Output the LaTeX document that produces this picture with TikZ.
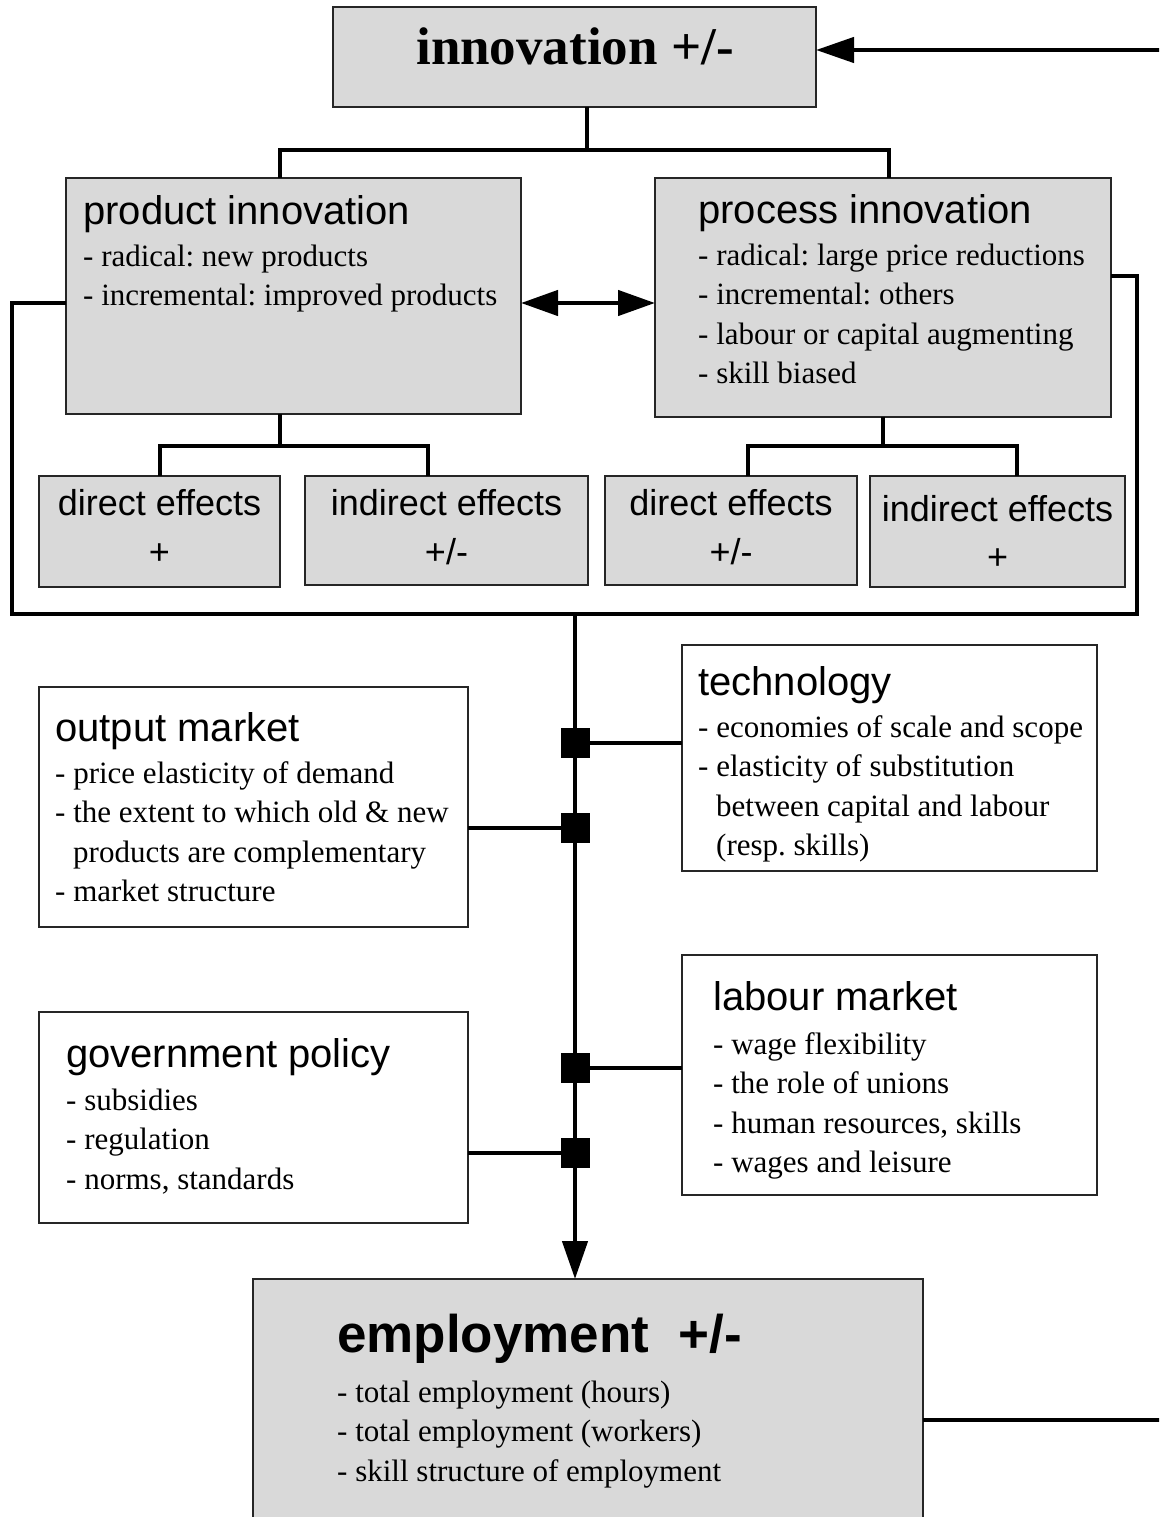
\documentclass[tikz,border=0pt]{standalone}
\usepackage{fontspec}
\setmainfont{Liberation Serif}
\setsansfont{Liberation Sans}
\usetikzlibrary{arrows.meta}
\definecolor{boxgray}{HTML}{D9D9D9}
\frenchspacing
\begin{document}
\begin{tikzpicture}[x=1pt,y=-1pt,
 gbox/.style={draw=black!85, line width=1.6pt, fill=boxgray, inner sep=0pt, outer sep=0pt, anchor=north west},
 wbox/.style={gbox, fill=white},
 conn/.style={line width=4.5pt},
 thin/.style={line width=3.5pt},
 head/.style={font=\sffamily\fontsize{40}{48}\selectfont, anchor=base west, inner sep=0pt},
 items/.style={font=\fontsize{31}{39.5}\selectfont\frenchspacing, align=left, anchor=base west, inner sep=0pt},
 efft/.style={font=\sffamily\fontsize{36}{48}\selectfont, anchor=base, inner sep=0pt},
 sq/.style={fill=black, minimum width=29pt, minimum height=30pt, inner sep=0pt, outer sep=0pt},
 tip/.style={-{Triangle[length=38pt,width=25pt]}},
 dtip/.style={{Triangle[length=37pt,width=25pt]}-{Triangle[length=37pt,width=25pt]}}
]
\useasboundingbox (0,0) rectangle (1159,1517);
\clip (0,0) rectangle (1159,1517);

% boxes
\node[gbox, minimum width=483pt, minimum height=100pt] (inno) at (333,7) {};
\node[gbox, minimum width=455pt, minimum height=236pt] (prod) at (66,178) {};
\node[gbox, minimum width=456pt, minimum height=239pt] (proc) at (655,178) {};
\node[gbox, minimum width=241pt, minimum height=111pt] (de1) at (39,476) {};
\node[gbox, minimum width=283pt, minimum height=109pt] (ie1) at (305,476) {};
\node[gbox, minimum width=252pt, minimum height=109pt] (de2) at (605,476) {};
\node[gbox, minimum width=255pt, minimum height=111pt] (ie2) at (870,476) {};
\node[wbox, minimum width=415pt, minimum height=226pt] (tech) at (682,645) {};
\node[wbox, minimum width=429pt, minimum height=240pt] (out) at (39,687) {};
\node[wbox, minimum width=415pt, minimum height=240pt] (lab) at (682,955) {};
\node[wbox, minimum width=429pt, minimum height=211pt] (gov) at (39,1012) {};
\node[gbox, minimum width=670pt, minimum height=270pt] (emp) at (253,1279) {};

% texts (items nodes are anchored at the baseline of their last line)
\node[font=\bfseries\fontsize{53}{60}\selectfont, anchor=base, inner sep=0pt] (innot) at (575,65) {innovation +/-};

\node[head] (prodh) at (83,225) {product innovation};
\node[items] (prodi) at (83,305.5) {- radical: new products\\- incremental: improved products};

\node[head] (proch) at (698,223) {process innovation};
\node[items] (proci) at (698,383.5) {- radical: large price reductions\\- incremental: others\\- labour or capital augmenting\\- skill biased};

\node[efft] (de1a) at (159.5,515) {direct effects};
\node[efft] (de1b) at (159.5,564) {+};
\node[efft] (ie1a) at (446.5,515) {indirect effects};
\node[efft] (ie1b) at (446.5,564) {+/-};
\node[efft] (de2a) at (731,515) {direct effects};
\node[efft] (de2b) at (731,564) {+/-};
\node[efft] (ie2a) at (997.5,521) {indirect effects};
\node[efft] (ie2b) at (997.5,569) {+};

\node[head] (techh) at (698,695) {technology};
\node[items] (techi) at (698,855.5) {- economies of scale and scope\\- elasticity of substitution\\\hspace*{18pt}between capital and labour\\\hspace*{18pt}(resp. skills)};

\node[head] (outh) at (55,741) {output market};
\node[items] (outi) at (55,901.5) {- price elasticity of demand\\- the extent to which old \& new\\\hspace*{18pt}products are complementary\\- market structure};

\node[head] (labh) at (713,1010) {labour market};
\node[items] (labi) at (713,1172.5) {- wage flexibility\\- the role of unions\\- human resources, skills\\- wages and leisure};

\node[head] (govh) at (66,1067) {government policy};
\node[items] (govi) at (66,1189) {- subsidies\\- regulation\\- norms, standards};

\node[font=\sffamily\bfseries\fontsize{53}{60}\selectfont, anchor=base west, inner sep=0pt] (emph) at (337,1352) {employment\hspace{0.556em}+/-};
\node[items] (empi) at (337,1481) {- total employment (hours)\\- total employment (workers)\\- skill structure of employment};

% connector coordinates
\coordinate (b0) at (587,150);
\coordinate (b1) at (280,150);
\coordinate (b2) at (889,150);
\coordinate (p0) at (280,446);
\coordinate (p1) at (160,446);
\coordinate (p2) at (428,446);
\coordinate (q0) at (883,446);
\coordinate (q1) at (748,446);
\coordinate (q2) at (1017,446);
\coordinate (L1) at (12,303);
\coordinate (L2) at (12,614);
\coordinate (R2) at (1137,614);
\coordinate (R1) at (1137,276);
\coordinate (C0) at (575,614);
\coordinate (fbtop) at (1162,50);
\coordinate (fbbot) at (1162,1420);
\coordinate (dy) at (0,303);

% tree connectors
\draw[conn] (b0 |- inno.south) -- (b0);
\draw[conn] (b1 |- prod.north) -- (b1) -- (b2) -- (b2 |- proc.north);
\draw[conn] (p0 |- prod.south) -- (p0);
\draw[conn] (p1 |- de1.north) -- (p1) -- (p2) -- (p2 |- ie1.north);
\draw[conn] (q0 |- proc.south) -- (q0);
\draw[conn] (q1 |- de2.north) -- (q1) -- (q2) -- (q2 |- ie2.north);

% double arrow
\draw[conn, dtip] (prod.east |- dy) -- (proc.west |- dy);

% loop
\draw[conn] (L1 -| prod.west) -- (L1) -- (L2) -- (R2) -- (R1) -- (R1 -| proc.east);

% central line to employment
\draw[conn, tip] (C0) -- (C0 |- emp.north);

% squares and side connectors
\node[sq] (s1) at (575,743) {};
\node[sq] (s2) at (575,828) {};
\node[sq] (s3) at (575,1068) {};
\node[sq] (s4) at (575,1153) {};
\draw[thin] (s1.east) -- (s1 -| tech.west);
\draw[thin] (out.east |- s2) -- (s2.west);
\draw[thin] (s3.east) -- (s3 -| lab.west);
\draw[thin] (gov.east |- s4) -- (s4.west);

% feedback lines
\draw[conn, tip] (fbtop) -- (fbtop -| inno.east);
\draw[conn] (emp.east |- fbbot) -- (fbbot);
\end{tikzpicture}
\end{document}
